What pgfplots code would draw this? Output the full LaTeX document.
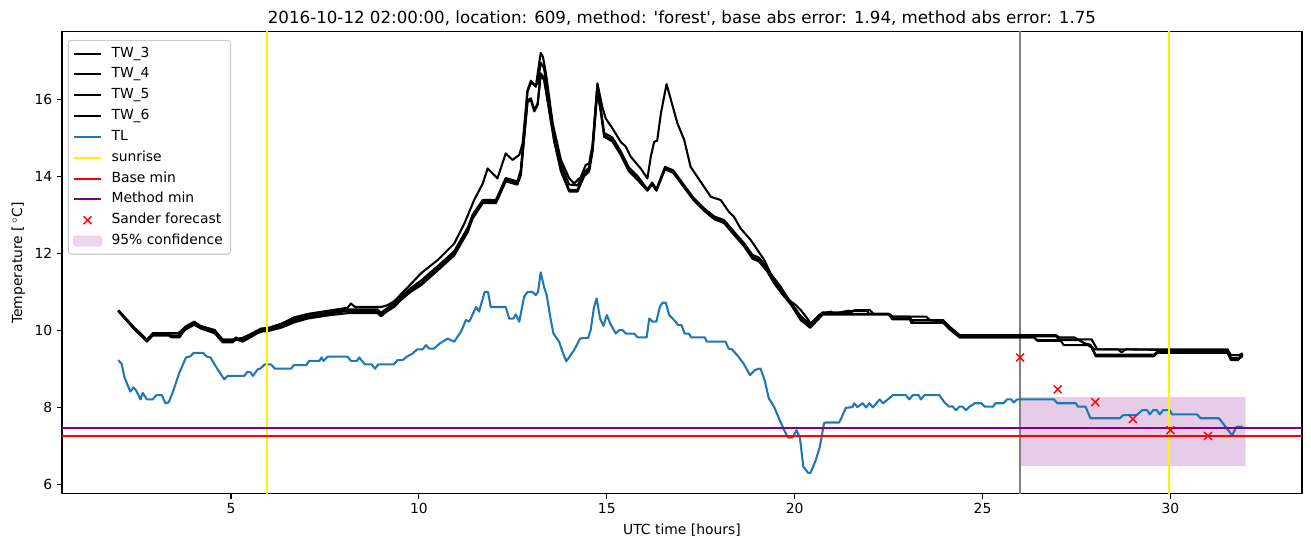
\documentclass[border=0pt]{standalone}
\usepackage{fontspec}
\setmainfont{DejaVu Sans}[Ligatures=TeXOff]
\usepackage{pgfplots}
\pgfplotsset{compat=1.18}
\definecolor{tlblue}{RGB}{31,119,180}
\definecolor{mplpurple}{RGB}{128,0,128}
\definecolor{bandcol}{RGB}{230,204,230}
\definecolor{mplgray}{RGB}{128,128,128}
\definecolor{legedge}{RGB}{204,204,204}

\pgfplotstableread{
x y
2.00 10.52
2.43 10.06
2.61 9.90
2.76 9.75
2.92 9.92
3.60 9.92
3.80 10.10
4.02 10.22
4.20 10.10
4.56 10.00
4.69 9.85
4.78 9.75
5.04 9.75
5.31 9.80
5.49 9.88
5.80 10.04
6.00 10.06
6.33 10.16
6.68 10.33
7.04 10.42
7.57 10.50
8.10 10.58
8.19 10.69
8.30 10.60
9.00 10.60
9.17 10.65
9.34 10.75
9.52 10.93
9.79 11.20
10.05 11.47
10.50 11.82
10.94 12.25
11.21 12.77
11.47 13.38
11.70 13.81
11.83 14.20
12.09 13.94
12.31 14.59
12.49 14.42
12.67 14.55
12.76 14.85
12.89 16.23
12.98 16.48
13.11 16.32
13.24 17.20
13.30 17.10
13.38 16.67
13.56 15.37
13.78 14.42
14.00 13.94
14.13 13.81
14.31 13.98
14.44 14.29
14.53 14.33
14.62 14.81
14.75 16.41
14.88 15.80
14.97 15.50
15.15 15.24
15.37 14.89
15.50 14.77
15.64 14.50
15.90 14.20
16.08 13.94
16.17 14.50
16.26 14.89
16.34 14.92
16.44 15.63
16.59 16.39
16.88 15.37
17.06 14.94
17.23 14.24
17.59 13.72
17.77 13.46
18.03 13.38
18.25 13.07
18.38 12.95
18.56 12.64
18.83 12.34
19.01 12.08
19.19 11.82
19.36 11.47
19.63 11.12
19.85 10.78
20.03 10.65
20.16 10.52
20.30 10.35
20.43 10.17
20.61 10.35
20.69 10.42
20.96 10.48
21.05 10.42
21.40 10.50
21.93 10.50
21.98 10.42
22.51 10.42
22.60 10.35
23.06 10.35
23.10 10.26
23.95 10.26
24.12 10.09
24.39 9.87
26.95 9.87
27.04 9.81
27.44 9.81
27.87 9.57
28.00 9.50
31.52 9.50
31.61 9.35
31.83 9.35
31.92 9.40
}\twthree

\pgfplotstableread{
x y
2.00 10.50
2.43 10.02
2.61 9.85
2.76 9.75
2.92 9.90
3.32 9.90
3.41 9.84
3.63 9.84
3.80 10.04
4.02 10.16
4.20 10.10
4.56 10.00
4.69 9.85
4.78 9.75
5.31 9.75
5.49 9.82
5.80 9.98
6.00 10.05
6.33 10.16
6.68 10.28
7.04 10.38
7.57 10.45
8.10 10.54
8.90 10.54
8.99 10.45
9.17 10.58
9.34 10.70
9.52 10.86
9.79 11.10
10.05 11.28
10.50 11.66
10.94 12.05
11.30 12.66
11.43 13.00
11.70 13.38
12.05 13.38
12.31 13.95
12.62 13.86
12.71 14.15
12.89 16.20
12.98 16.42
13.07 16.38
13.16 16.40
13.24 16.95
13.33 16.80
13.60 15.05
13.78 14.30
14.00 13.78
14.22 13.76
14.40 14.10
14.53 14.22
14.62 14.75
14.75 16.35
14.84 15.75
14.93 15.12
15.15 15.00
15.37 14.65
15.59 14.22
15.82 14.00
16.08 13.66
16.21 13.83
16.32 13.66
16.55 14.24
16.77 14.15
17.06 13.76
17.32 13.42
17.59 13.16
17.86 12.95
18.12 12.86
18.38 12.56
18.65 12.26
18.87 11.96
19.05 11.88
19.27 11.62
19.45 11.30
19.68 11.00
19.90 10.72
20.16 10.36
20.41 10.16
20.61 10.34
20.74 10.46
21.50 10.46
21.60 10.52
22.00 10.52
22.10 10.42
22.51 10.42
22.60 10.35
23.50 10.35
23.60 10.26
23.95 10.22
24.39 9.84
26.95 9.84
27.04 9.76
27.90 9.76
28.05 9.50
28.60 9.50
28.70 9.42
28.80 9.50
31.52 9.46
31.61 9.28
31.83 9.28
31.92 9.38
}\twfour

\pgfplotstableread{
x y
2.00 10.50
2.20 10.28
2.43 10.04
2.61 9.87
2.76 9.72
2.92 9.90
3.32 9.90
3.41 9.81
3.63 9.81
3.80 10.07
4.02 10.19
4.20 10.07
4.36 10.04
4.56 9.96
4.69 9.81
4.78 9.72
5.04 9.72
5.13 9.81
5.31 9.72
5.49 9.85
5.67 9.95
5.80 10.00
6.00 10.00
6.33 10.10
6.68 10.25
7.04 10.33
7.57 10.42
8.10 10.50
8.90 10.50
8.99 10.40
9.17 10.55
9.34 10.65
9.52 10.82
9.79 11.05
10.05 11.21
10.50 11.60
10.94 11.99
11.30 12.60
11.43 12.94
11.70 13.33
12.05 13.33
12.31 13.90
12.62 13.81
12.71 14.07
12.89 15.97
12.98 16.02
13.07 15.71
13.16 15.89
13.24 16.67
13.33 16.55
13.60 14.94
13.78 14.16
14.00 13.64
14.22 13.64
14.40 14.03
14.53 14.16
14.62 14.68
14.75 16.28
14.84 15.71
14.93 15.06
15.15 14.94
15.37 14.59
15.59 14.16
15.82 13.94
16.08 13.64
16.21 13.81
16.32 13.64
16.55 14.20
16.77 14.11
17.06 13.72
17.32 13.38
17.59 13.12
17.86 12.90
18.12 12.81
18.38 12.51
18.65 12.21
18.87 11.90
19.05 11.82
19.27 11.56
19.45 11.25
19.68 10.95
19.90 10.69
20.16 10.30
20.41 10.10
20.61 10.30
20.74 10.42
22.51 10.42
22.60 10.30
23.06 10.30
23.10 10.19
23.95 10.19
24.12 10.02
24.39 9.81
26.37 9.81
26.46 9.72
27.08 9.72
27.16 9.61
27.87 9.61
28.01 9.32
29.56 9.32
29.65 9.41
31.52 9.41
31.61 9.22
31.79 9.22
31.92 9.35
}\twfive

\pgfplotstableread{
x y
2.00 10.50
2.43 10.02
2.61 9.85
2.76 9.70
2.92 9.86
3.60 9.86
3.80 10.02
4.02 10.14
4.20 10.04
4.56 9.92
4.69 9.78
4.78 9.68
5.04 9.68
5.13 9.76
5.31 9.70
5.49 9.80
5.67 9.90
5.80 9.96
6.00 9.98
6.33 10.06
6.68 10.20
7.04 10.30
7.57 10.38
8.10 10.44
8.90 10.44
8.99 10.36
9.17 10.50
9.34 10.60
9.52 10.78
9.79 11.00
10.05 11.16
10.50 11.55
10.94 11.94
11.30 12.55
11.43 12.90
11.70 13.30
12.05 13.30
12.31 13.86
12.62 13.78
12.71 14.02
12.89 15.92
12.98 15.98
13.07 15.68
13.16 15.85
13.24 16.62
13.33 16.50
13.60 14.90
13.78 14.12
14.00 13.60
14.22 13.60
14.40 14.00
14.53 14.12
14.62 14.64
14.75 16.22
14.84 15.66
14.93 15.02
15.15 14.90
15.37 14.55
15.59 14.12
15.82 13.90
16.08 13.62
16.21 13.78
16.32 13.62
16.55 14.18
16.77 14.08
17.06 13.70
17.32 13.36
17.59 13.10
17.86 12.88
18.12 12.78
18.38 12.48
18.65 12.18
18.87 11.86
19.05 11.78
19.27 11.52
19.45 11.22
19.68 10.92
19.90 10.66
20.16 10.26
20.41 10.06
20.61 10.26
20.74 10.40
22.51 10.40
22.60 10.28
23.10 10.28
23.15 10.19
24.00 10.19
24.39 9.81
26.37 9.81
26.46 9.74
27.60 9.74
27.70 9.66
27.87 9.62
28.01 9.36
29.56 9.36
29.65 9.44
31.52 9.44
31.61 9.24
31.79 9.24
31.92 9.32
}\twsix

\pgfplotstableread{
x y
2.00 9.22
2.09 9.12
2.16 8.79
2.32 8.40
2.40 8.51
2.47 8.44
2.59 8.20
2.65 8.37
2.76 8.20
2.92 8.20
3.01 8.31
3.16 8.31
3.25 8.10
3.34 8.12
3.44 8.36
3.62 8.88
3.80 9.29
3.92 9.32
4.01 9.41
4.25 9.41
4.36 9.31
4.45 9.29
4.63 9.00
4.82 8.72
4.91 8.81
5.35 8.81
5.44 8.92
5.52 8.90
5.58 8.81
5.71 8.98
5.78 9.00
5.90 9.11
6.06 9.11
6.17 9.00
6.60 9.00
6.67 9.09
7.00 9.09
7.08 9.20
7.35 9.20
7.41 9.29
7.46 9.20
7.57 9.31
8.10 9.31
8.19 9.20
8.35 9.20
8.41 9.29
8.56 9.11
8.74 9.11
8.83 9.00
8.92 9.11
9.33 9.11
9.43 9.22
9.56 9.22
9.68 9.31
9.83 9.39
9.95 9.50
10.10 9.50
10.19 9.61
10.27 9.52
10.40 9.52
10.55 9.65
10.76 9.78
10.94 9.70
11.12 9.96
11.25 10.26
11.34 10.22
11.52 10.60
11.60 10.48
11.75 10.99
11.84 10.99
11.91 10.60
12.31 10.60
12.40 10.30
12.51 10.30
12.58 10.41
12.67 10.22
12.80 10.87
12.89 10.99
13.02 10.99
13.11 10.91
13.17 10.99
13.24 11.50
13.33 11.12
13.40 10.91
13.51 10.26
13.58 9.91
13.73 9.70
13.82 9.44
13.92 9.19
14.13 9.48
14.29 9.78
14.35 9.79
14.50 9.79
14.57 10.00
14.66 10.60
14.73 10.82
14.82 10.30
14.91 10.11
15.00 10.39
15.09 10.17
15.24 9.91
15.33 10.00
15.42 10.00
15.51 9.91
15.73 9.91
15.82 9.81
16.06 9.81
16.13 10.30
16.22 10.22
16.32 10.22
16.41 10.60
16.48 10.71
16.57 10.71
16.66 10.39
16.79 10.26
16.90 10.13
16.99 10.13
17.07 9.91
17.18 9.91
17.25 9.81
17.61 9.81
17.66 9.70
18.16 9.70
18.24 9.52
18.33 9.50
18.47 9.35
18.64 9.13
18.81 8.83
18.94 8.96
19.05 9.00
19.09 9.00
19.20 8.70
19.31 8.23
19.45 8.01
19.58 7.71
19.72 7.40
19.82 7.21
19.94 7.21
20.05 7.40
20.14 7.20
20.23 6.45
20.36 6.29
20.42 6.29
20.56 6.62
20.67 6.97
20.78 7.58
20.83 7.60
21.18 7.60
21.24 7.71
21.36 7.98
21.54 8.00
21.58 8.10
21.67 8.00
21.81 8.10
21.90 7.99
21.99 8.10
22.08 7.99
22.26 8.20
22.35 8.10
22.48 8.20
22.61 8.31
22.96 8.31
23.05 8.20
23.14 8.31
23.30 8.31
23.36 8.20
23.45 8.31
23.85 8.31
23.98 8.13
24.11 8.01
24.20 8.02
24.29 7.92
24.38 8.01
24.47 8.01
24.56 7.92
24.65 8.01
24.79 8.10
24.97 8.10
25.06 8.01
25.28 8.01
25.34 8.10
25.56 8.10
25.65 8.20
25.76 8.20
25.83 8.12
25.92 8.20
26.90 8.20
26.99 8.10
27.48 8.10
27.54 8.01
27.74 8.01
27.87 7.71
28.65 7.71
28.74 7.79
29.10 7.79
29.25 7.92
29.38 7.92
29.45 7.81
29.54 7.92
29.63 7.92
29.72 7.81
29.80 7.92
29.98 7.92
30.04 7.81
30.71 7.81
30.80 7.71
31.29 7.71
31.64 7.27
31.76 7.49
31.92 7.49
}\tl

\begin{document}
\begin{tikzpicture}
\path[use as bounding box] (-44.6pt,-38.2pt) rectangle (899.3pt,355.6pt);
\begin{axis}[
  at={(0,0)}, anchor=south west,
  scale only axis, width=892.8pt, height=332.6pt,
  xmin=0.5, xmax=33.5, ymin=5.745, ymax=17.745,
  xtick={5,10,15,20,25,30}, ytick={6,8,10,12,14,16},
  tick pos=left, tick align=outside, major tick length=3.5pt,
  every tick/.style={black, line width=0.8pt},
  axis line style={line width=0.8pt},
  /pgf/number format/assume math mode=true,
  ticklabel style={font=\fontsize{10}{12}\selectfont},
  label style={font=\fontsize{10}{12}\selectfont},
  xlabel={UTC time [hours]},
  ylabel={Temperature [\,$^\circ$C]},
  title={2016-10-12 02:00:00, location: 609, method: 'forest', base abs error: 1.94, method abs error: 1.75},
  title style={font=\fontsize{12}{14}\selectfont, yshift=-5pt},
  legend cell align=left,
  legend style={at={(0.0048,0.983)}, anchor=north west, draw=legedge, line width=0.8pt,
    rounded corners=2pt, fill=white, fill opacity=0.8, text opacity=1,
    font=\fontsize{10}{12}\selectfont, row sep=0pt, inner xsep=3pt, inner ysep=2pt,
    nodes={text height=7.6pt, text depth=2.4pt, inner sep=2.5pt}},
  legend image code/.code={\draw[mark repeat=2,mark phase=2,#1] plot coordinates {(0pt,0pt) (10pt,0pt) (20pt,0pt)}; \path (24pt,0pt);},
  every axis plot/.append style={line join=round},
]
\addplot[draw=none, fill=bandcol, forget plot] coordinates {(26,6.475) (32,6.475) (32,8.26) (26,8.26) (26,6.475)};
\addplot[mplgray, line width=1.5pt, forget plot] coordinates {(26,0) (26,20)};
\addplot[black, line width=1.5pt] table {\twthree}; \addlegendentry{TW\_3}
\addplot[black, line width=1.5pt] table {\twfour}; \addlegendentry{TW\_4}
\addplot[black, line width=1.5pt] table {\twfive}; \addlegendentry{TW\_5}
\addplot[black, line width=1.5pt] table {\twsix}; \addlegendentry{TW\_6}
\addplot[tlblue, line width=1.5pt] table {\tl}; \addlegendentry{TL}
\addplot[yellow, line width=1.5pt] coordinates {(5.95,0) (5.95,20)}; \addlegendentry{sunrise}
\addplot[yellow, line width=1.5pt, forget plot] coordinates {(29.97,0) (29.97,20)};
\addplot[red, line width=1.5pt] coordinates {(0,7.255) (34,7.255)}; \addlegendentry{Base min}
\addplot[mplpurple, line width=1.5pt] coordinates {(0,7.46) (34,7.46)}; \addlegendentry{Method min}
\addplot[only marks, red, mark=x, mark size=4pt, mark options={line width=1pt}] coordinates {(26,9.29) (27,8.46) (28,8.13) (29,7.69) (30,7.40) (31,7.25)}; \addlegendentry{Sander forecast}
\addlegendimage{legend image code/.code={\fill[bandcol] (0pt,-3.5pt) rectangle (20pt,3.5pt); \path (24pt,0pt);}}
\addlegendentry{95\% confidence}
\end{axis}
\end{tikzpicture}
\end{document}
